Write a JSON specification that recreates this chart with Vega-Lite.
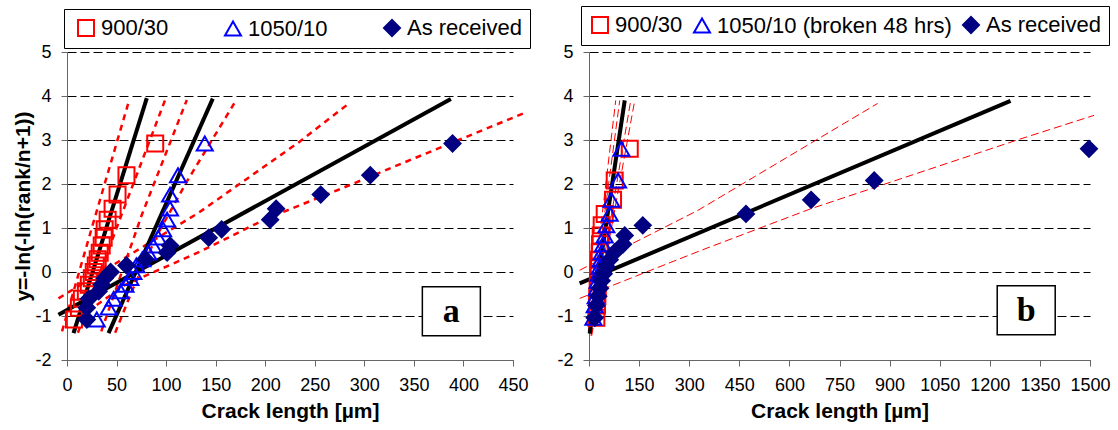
{
  "$schema": "https://vega.github.io/schema/vega-lite/v6.json",
  "padding": {"left": 12, "top": 5, "right": 5, "bottom": 5},
  "bounds": "flush",
  "spacing": 76,
  "background": "white",
  "config": {
    "font": "Liberation Sans",
    "view": {"stroke": null},
    "axis": {
      "labelFont": "Liberation Sans", "labelFontSize": 18, "labelColor": "black",
      "domainColor": "#666666", "tickColor": "#666666", "tickSize": 6, "labelPadding": 10,
      "titleFont": "Liberation Sans", "titleFontSize": 21, "titleFontWeight": "bold", "titleColor": "black"
    },
    "axisY": {"grid": true, "gridColor": "black", "gridDash": [9, 4], "gridWidth": 1, "labelExpr": "replace(datum.label, '−', '-')"},
    "axisX": {"grid": false, "format": "d", "labelOverlap": false, "labelFlush": false},
    "legend": {
      "orient": "none", "direction": "horizontal", "columns": 3,
      "labelFont": "Liberation Sans", "labelFontSize": 22, "labelColor": "black", "labelLimit": 0,
      "strokeColor": "black", "fillColor": "white", "padding": 8,
      "symbolSize": 256, "symbolStrokeWidth": 2, "labelOffset": 4
    }
  },
  "datasets": {
    "a_pts": [
      {"series": "900/30", "x": 89, "y": 2.92}, {"series": "900/30", "x": 60, "y": 2.20}, {"series": "900/30", "x": 51, "y": 1.76},
      {"series": "900/30", "x": 46, "y": 1.44}, {"series": "900/30", "x": 41, "y": 1.19}, {"series": "900/30", "x": 38, "y": 0.97},
      {"series": "900/30", "x": 37, "y": 0.78}, {"series": "900/30", "x": 35, "y": 0.60}, {"series": "900/30", "x": 33, "y": 0.44},
      {"series": "900/30", "x": 31, "y": 0.29}, {"series": "900/30", "x": 29, "y": 0.15}, {"series": "900/30", "x": 27, "y": 0.00},
      {"series": "900/30", "x": 25, "y": -0.14}, {"series": "900/30", "x": 22, "y": -0.29}, {"series": "900/30", "x": 19, "y": -0.44},
      {"series": "900/30", "x": 15, "y": -0.61}, {"series": "900/30", "x": 12, "y": -0.81}, {"series": "900/30", "x": 7, "y": -1.08},
      {"series": "1050/10", "x": 139, "y": 2.92}, {"series": "1050/10", "x": 112, "y": 2.20}, {"series": "1050/10", "x": 104, "y": 1.76},
      {"series": "1050/10", "x": 104, "y": 1.44}, {"series": "1050/10", "x": 101, "y": 1.19}, {"series": "1050/10", "x": 97, "y": 0.97},
      {"series": "1050/10", "x": 92, "y": 0.78}, {"series": "1050/10", "x": 87, "y": 0.60}, {"series": "1050/10", "x": 82, "y": 0.44},
      {"series": "1050/10", "x": 76, "y": 0.29}, {"series": "1050/10", "x": 70, "y": 0.15}, {"series": "1050/10", "x": 67, "y": 0.00},
      {"series": "1050/10", "x": 64, "y": -0.14}, {"series": "1050/10", "x": 59, "y": -0.29}, {"series": "1050/10", "x": 54, "y": -0.44},
      {"series": "1050/10", "x": 47, "y": -0.61}, {"series": "1050/10", "x": 42, "y": -0.81}, {"series": "1050/10", "x": 30, "y": -1.08},
      {"series": "As received", "x": 389, "y": 2.92}, {"series": "As received", "x": 306, "y": 2.20}, {"series": "As received", "x": 256, "y": 1.76},
      {"series": "As received", "x": 211, "y": 1.44}, {"series": "As received", "x": 205, "y": 1.19}, {"series": "As received", "x": 156, "y": 0.97},
      {"series": "As received", "x": 143, "y": 0.78}, {"series": "As received", "x": 104, "y": 0.60}, {"series": "As received", "x": 101, "y": 0.44},
      {"series": "As received", "x": 79, "y": 0.29}, {"series": "As received", "x": 60, "y": 0.15}, {"series": "As received", "x": 44, "y": 0.00},
      {"series": "As received", "x": 38, "y": -0.14}, {"series": "As received", "x": 35, "y": -0.29}, {"series": "As received", "x": 32, "y": -0.44},
      {"series": "As received", "x": 22, "y": -0.61}, {"series": "As received", "x": 20, "y": -0.81}, {"series": "As received", "x": 20, "y": -1.08}
    ],
    "a_fits": [
      {"id": "f1", "x": 6.6, "y": -1.39}, {"id": "f1", "x": 80.5, "y": 3.95},
      {"id": "f2", "x": 41.9, "y": -1.39}, {"id": "f2", "x": 147.1, "y": 3.94},
      {"id": "f3", "x": -8.6, "y": -0.97}, {"id": "f3", "x": 387.3, "y": 3.93}
    ],
    "a_bounds": [
      {"id": "b1l", "x": -5, "y": -1.35}, {"id": "b1l", "x": 25, "y": 1.0}, {"id": "b1l", "x": 62, "y": 3.85},
      {"id": "b1r", "x": 11, "y": -1.38}, {"id": "b1r", "x": 50, "y": 1.0}, {"id": "b1r", "x": 99, "y": 3.91},
      {"id": "b2l", "x": 34.6, "y": -1.35}, {"id": "b2l", "x": 48.6, "y": -0.44}, {"id": "b2l", "x": 75.5, "y": 1.3}, {"id": "b2l", "x": 120.9, "y": 3.91},
      {"id": "b2r", "x": 48.6, "y": -1.38}, {"id": "b2r", "x": 65.4, "y": -0.44}, {"id": "b2r", "x": 90, "y": 0.8}, {"id": "b2r", "x": 121, "y": 2.06}, {"id": "b2r", "x": 170, "y": 3.88},
      {"id": "b3u", "x": -8.6, "y": -0.6}, {"id": "b3u", "x": 133, "y": 1.35}, {"id": "b3u", "x": 234, "y": 2.95}, {"id": "b3u", "x": 285, "y": 3.84},
      {"id": "b3l", "x": 30, "y": -0.75}, {"id": "b3l", "x": 58.7, "y": -0.29}, {"id": "b3l", "x": 133, "y": 0.45}, {"id": "b3l", "x": 200, "y": 1.2},
      {"id": "b3l", "x": 274, "y": 1.87}, {"id": "b3l", "x": 351, "y": 2.59}, {"id": "b3l", "x": 460, "y": 3.6}
    ],
    "a_tag": [{"tag": "a", "x": 387.8, "y": -0.89}],
    "b_pts": [
      {"series": "900/30", "x": 122, "y": 2.80}, {"series": "900/30", "x": 77, "y": 2.08}, {"series": "900/30", "x": 72, "y": 1.64},
      {"series": "900/30", "x": 47, "y": 1.32}, {"series": "900/30", "x": 38, "y": 1.06}, {"series": "900/30", "x": 35, "y": 0.83},
      {"series": "900/30", "x": 33, "y": 0.63}, {"series": "900/30", "x": 32, "y": 0.45}, {"series": "900/30", "x": 30, "y": 0.28},
      {"series": "900/30", "x": 29, "y": 0.12}, {"series": "900/30", "x": 28, "y": -0.04}, {"series": "900/30", "x": 27, "y": -0.20},
      {"series": "900/30", "x": 26, "y": -0.37}, {"series": "900/30", "x": 25, "y": -0.55}, {"series": "900/30", "x": 24, "y": -0.76},
      {"series": "900/30", "x": 22, "y": -1.04},
      {"series": "1050/10 (broken 48 hrs)", "x": 97, "y": 2.80}, {"series": "1050/10 (broken 48 hrs)", "x": 87, "y": 2.08},
      {"series": "1050/10 (broken 48 hrs)", "x": 67, "y": 1.64}, {"series": "1050/10 (broken 48 hrs)", "x": 62, "y": 1.32},
      {"series": "1050/10 (broken 48 hrs)", "x": 52, "y": 1.06}, {"series": "1050/10 (broken 48 hrs)", "x": 47, "y": 0.83},
      {"series": "1050/10 (broken 48 hrs)", "x": 42, "y": 0.63}, {"series": "1050/10 (broken 48 hrs)", "x": 38, "y": 0.45},
      {"series": "1050/10 (broken 48 hrs)", "x": 35, "y": 0.28}, {"series": "1050/10 (broken 48 hrs)", "x": 32, "y": 0.12},
      {"series": "1050/10 (broken 48 hrs)", "x": 29, "y": -0.04}, {"series": "1050/10 (broken 48 hrs)", "x": 26, "y": -0.20},
      {"series": "1050/10 (broken 48 hrs)", "x": 23, "y": -0.37}, {"series": "1050/10 (broken 48 hrs)", "x": 20, "y": -0.55},
      {"series": "1050/10 (broken 48 hrs)", "x": 17, "y": -0.76}, {"series": "1050/10 (broken 48 hrs)", "x": 13, "y": -1.04},
      {"series": "As received", "x": 1497, "y": 2.80}, {"series": "As received", "x": 854, "y": 2.08}, {"series": "As received", "x": 665, "y": 1.64},
      {"series": "As received", "x": 470, "y": 1.32}, {"series": "As received", "x": 161, "y": 1.06}, {"series": "As received", "x": 107, "y": 0.83},
      {"series": "As received", "x": 102, "y": 0.63}, {"series": "As received", "x": 77, "y": 0.45}, {"series": "As received", "x": 62, "y": 0.28},
      {"series": "As received", "x": 52, "y": 0.12}, {"series": "As received", "x": 44, "y": -0.04}, {"series": "As received", "x": 38, "y": -0.20},
      {"series": "As received", "x": 33, "y": -0.37}, {"series": "As received", "x": 28, "y": -0.55}, {"series": "As received", "x": 22, "y": -0.76},
      {"series": "As received", "x": 17, "y": -1.04}
    ],
    "b_fits": [
      {"id": "g1", "x": 2, "y": -1.4}, {"id": "g1", "x": 107, "y": 3.9},
      {"id": "g3", "x": -28, "y": -0.26}, {"id": "g3", "x": 1262, "y": 3.89}
    ],
    "b_bounds": [
      {"id": "c1", "x": -2, "y": -1.35}, {"id": "c1", "x": 80, "y": 3.9},
      {"id": "c2", "x": 0, "y": -1.35}, {"id": "c2", "x": 92, "y": 3.9},
      {"id": "c3", "x": 6, "y": -1.45}, {"id": "c3", "x": 125, "y": 3.9},
      {"id": "c4", "x": 8, "y": -1.45}, {"id": "c4", "x": 137, "y": 3.9},
      {"id": "c5u", "x": -28, "y": 0.04}, {"id": "c5u", "x": 326, "y": 1.4}, {"id": "c5u", "x": 864, "y": 3.83},
      {"id": "c5l", "x": -28, "y": -0.6}, {"id": "c5l", "x": 335, "y": 0.49}, {"id": "c5l", "x": 665, "y": 1.44}, {"id": "c5l", "x": 1282, "y": 3.0}, {"id": "c5l", "x": 1512, "y": 3.56}
    ],
    "b_tag": [{"tag": "b", "x": 1309, "y": -0.87}]
  },
  "hconcat": [
    {
      "width": 446, "height": 308,
      "encoding": {
        "x": {"field": "x", "type": "quantitative", "scale": {"domain": [0, 450], "nice": false},
              "axis": {"values": [0, 50, 100, 150, 200, 250, 300, 350, 400, 450], "title": "Crack length [µm]", "titlePadding": 6}},
        "y": {"field": "y", "type": "quantitative", "scale": {"domain": [-2, 5], "nice": false},
              "axis": {"values": [-2, -1, 0, 1, 2, 3, 4, 5], "title": "y=-ln(-ln(rank/n+1))", "titlePadding": 1}}
      },
      "layer": [
        {"data": {"name": "a_bounds"}, "mark": {"type": "line", "color": "#FF0000", "strokeWidth": 2.5, "strokeDash": [6, 5]},
         "encoding": {"detail": {"field": "id"}}},
        {"data": {"name": "a_fits"}, "mark": {"type": "line", "color": "black", "strokeWidth": 4},
         "encoding": {"detail": {"field": "id"}}},
        {"data": {"name": "a_pts"}, "mark": {"type": "point", "strokeWidth": 2, "opacity": 1, "size": 256},
         "encoding": {
           "shape": {"field": "series", "type": "nominal", "scale": {"domain": ["900/30", "1050/10", "As received"], "range": ["square", "triangle-up", "diamond"]},
                     "legend": {"legendX": -3, "legendY": -43, "columnPadding": 52, "title": "\u00a0\u00a0", "titleOrient": "left", "titleFontSize": 22, "titlePadding": 3, "labelExpr": "datum.label == 'As received' ? 'As received\u00a0\u00a0' : datum.label"}},
           "stroke": {"field": "series", "type": "nominal", "scale": {"domain": ["900/30", "1050/10", "As received"], "range": ["#FF0000", "#0000FF", "#000080"]},
                     "legend": {"legendX": -3, "legendY": -43, "columnPadding": 52, "title": "\u00a0\u00a0", "titleOrient": "left", "titleFontSize": 22, "titlePadding": 3, "labelExpr": "datum.label == 'As received' ? 'As received\u00a0\u00a0' : datum.label"}},
           "fill": {"field": "series", "type": "nominal", "scale": {"domain": ["900/30", "1050/10", "As received"], "range": ["transparent", "transparent", "#000080"]},
                     "legend": {"legendX": -3, "legendY": -43, "columnPadding": 52, "title": "\u00a0\u00a0", "titleOrient": "left", "titleFontSize": 22, "titlePadding": 3, "labelExpr": "datum.label == 'As received' ? 'As received\u00a0\u00a0' : datum.label"}}
         }},
        {"data": {"name": "a_tag"}, "mark": {"type": "point", "shape": "M-1,-0.845L1,-0.845L1,0.845L-1,0.845Z", "size": 3364, "fill": "white", "stroke": "black", "strokeWidth": 1.5, "opacity": 1, "filled": true}},
        {"data": {"name": "a_tag"}, "mark": {"type": "text", "font": "Liberation Serif", "fontWeight": "bold", "fontSize": 34, "baseline": "alphabetic", "dy": 11, "color": "black"},
         "encoding": {"text": {"field": "tag"}}}
      ]
    },
    {
      "width": 501, "height": 308,
      "encoding": {
        "x": {"field": "x", "type": "quantitative", "scale": {"domain": [0, 1500], "nice": false},
              "axis": {"values": [0, 150, 300, 450, 600, 750, 900, 1050, 1200, 1350, 1500], "title": "Crack length [µm]", "titlePadding": 6}},
        "y": {"field": "y", "type": "quantitative", "scale": {"domain": [-2, 5], "nice": false},
              "axis": {"values": [-2, -1, 0, 1, 2, 3, 4, 5], "title": null}}
      },
      "layer": [
        {"data": {"name": "b_bounds"}, "mark": {"type": "line", "color": "#FF0000", "strokeWidth": 1, "strokeDash": [8, 4]},
         "encoding": {"detail": {"field": "id"}}},
        {"data": {"name": "b_fits"}, "mark": {"type": "line", "color": "black", "strokeWidth": 4},
         "encoding": {"detail": {"field": "id"}}},
        {"data": {"name": "b_pts"}, "mark": {"type": "point", "strokeWidth": 2, "opacity": 1, "size": 256},
         "encoding": {
           "shape": {"field": "series", "type": "nominal", "scale": {"domain": ["900/30", "1050/10 (broken 48 hrs)", "As received"], "range": ["square", "triangle-up", "diamond"]},
                     "legend": {"legendX": -8, "legendY": -46, "columnPadding": 7, "title": null}},
           "stroke": {"field": "series", "type": "nominal", "scale": {"domain": ["900/30", "1050/10 (broken 48 hrs)", "As received"], "range": ["#FF0000", "#0000FF", "#000080"]},
                     "legend": {"legendX": -8, "legendY": -46, "columnPadding": 7, "title": null}},
           "fill": {"field": "series", "type": "nominal", "scale": {"domain": ["900/30", "1050/10 (broken 48 hrs)", "As received"], "range": ["transparent", "transparent", "#000080"]},
                     "legend": {"legendX": -8, "legendY": -46, "columnPadding": 7, "title": null}}
         }},
        {"data": {"name": "b_tag"}, "mark": {"type": "point", "shape": "M-1,-0.845L1,-0.845L1,0.845L-1,0.845Z", "size": 3364, "fill": "white", "stroke": "black", "strokeWidth": 1.5, "opacity": 1, "filled": true}},
        {"data": {"name": "b_tag"}, "mark": {"type": "text", "font": "Liberation Serif", "fontWeight": "bold", "fontSize": 34, "baseline": "alphabetic", "dy": 11, "color": "black"},
         "encoding": {"text": {"field": "tag"}}}
      ]
    }
  ],
  "resolve": {"scale": {"x": "independent", "shape": "independent", "stroke": "independent", "fill": "independent"}, "legend": {"shape": "independent", "stroke": "independent", "fill": "independent"}}
}
